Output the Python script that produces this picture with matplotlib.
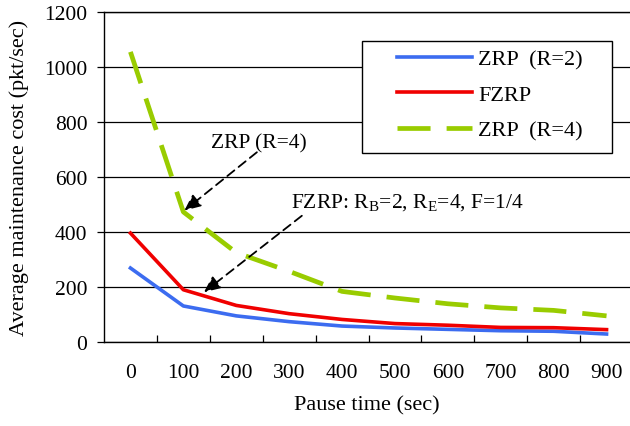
import matplotlib
matplotlib.use("Agg")
import matplotlib.pyplot as plt
from matplotlib.patches import Rectangle
import numpy as np

categories = [0, 100, 200, 300, 400, 500, 600, 700, 800, 900]
zrp_r2 = [269, 131, 95, 74, 58, 51, 46, 41, 39, 29]
fzrp = [396, 190, 133, 103, 82, 67, 61, 53, 52, 45]
zrp_r4 = [1055, 473, 325, 257, 184, 160, 139, 124, 115, 95]
yticks = [0, 200, 400, 600, 800, 1000, 1200]
series_labels = ['ZRP  (R=2)', 'FZRP', 'ZRP  (R=4)']

plt.rcParams['font.family'] = ['Liberation Serif', 'DejaVu Serif']

W, H = 630, 427
fig = plt.figure(figsize=(W/100, H/100), dpi=100)
ax = fig.add_axes([104/W, 1 - 343/H, 1 - 104/W, (343-13)/H])

x = np.arange(len(categories))
ax.plot(x, zrp_r2, color='#3c6cf0', lw=2.6, label=series_labels[0], zorder=3)
ax.plot(x, fzrp, color='#f00000', lw=2.6, label=series_labels[1], zorder=3)
ax.plot(x, zrp_r4, color='#99cc00', lw=3.4, label=series_labels[2], dashes=(7.0, 3.4), zorder=3)

ax.set_xlim(-0.5, -0.5 + (W - 104) / 52.9)
ax.set_ylim(0, 1200)
ax.set_yticks(yticks)
ax.set_xticks(x)
ax.set_xticklabels([str(c) for c in categories], fontsize=15.5)
ax.tick_params(axis='x', which='major', length=0, pad=15)
ax.set_xticks(np.arange(0.5, 9.0, 1.0), minor=True)
ax.tick_params(axis='x', which='minor', length=5, direction='in', width=0.9)
ax.tick_params(axis='y', length=5, direction='out', labelsize=15.5, width=0.9, pad=7)
ax.yaxis.grid(True, color='black', lw=0.9)
ax.set_axisbelow(True)
ax.spines['right'].set_visible(False)
for s in ['left', 'bottom', 'top']:
    ax.spines[s].set_linewidth(1.0)
    ax.spines[s].set_color('black')

ax.set_xlabel('Pause time (sec)', fontsize=16, labelpad=10)
ax.set_ylabel('Average maintenance cost (pkt/sec)', fontsize=16, labelpad=11)

# legend box
ax.add_patch(Rectangle((362/W, 1 - 154/H), 250/W, 112/H, transform=fig.transFigure,
                       facecolor='white', edgecolor='black', lw=1.0, zorder=4.5,
                       clip_on=False))
leg = ax.legend(loc='upper left', bbox_to_anchor=(396.5/W, 1 - 50/H),
                bbox_transform=fig.transFigure,
                fontsize=16, frameon=False, handlelength=3.4, labelspacing=0.68,
                borderpad=0, handletextpad=0.27, borderaxespad=0)
leg.set_zorder(5)

arrow_kw = dict(arrowstyle='-|>,head_length=0.55,head_width=0.25', color='black',
                linestyle=(0, (5, 3)), lw=1.3, mutation_scale=18, shrinkA=0, shrinkB=0)

ax.text(1.53, 709, 'ZRP (R=4)', fontsize=15.5, ha='left', va='baseline', zorder=6)
ax.annotate('', xy=(1.02, 478), xytext=(2.39, 690), arrowprops=arrow_kw, zorder=6)

ax.text(3.03, 490, 'FZRP: R$_\\mathregular{B}$=2, R$_\\mathregular{E}$=4, F=1/4',
        fontsize=15.5, ha='left', va='baseline', zorder=6)
ax.annotate('', xy=(1.39, 181), xytext=(3.24, 459), arrowprops=arrow_kw, zorder=6)

fig.savefig('out.png', dpi=100)
